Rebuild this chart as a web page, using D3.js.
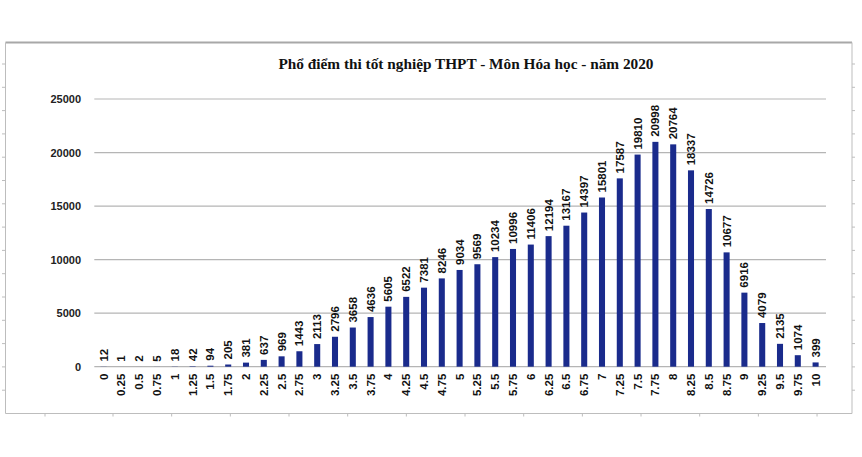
<!DOCTYPE html>
<html>
<head>
<meta charset="utf-8">
<script src="https://cdn.jsdelivr.net/npm/d3@7"></script>
<style>
  html, body { margin: 0; padding: 0; background: #fff; }
  svg { display: block; }
</style>
</head>
<body>
<svg id="chart" width="862" height="457"></svg>
<script>
const title = "Phổ điểm thi tốt nghiệp THPT - Môn Hóa học - năm 2020";
const categories = ["0","0.25","0.5","0.75","1","1.25","1.5","1.75","2","2.25","2.5","2.75",
  "3","3.25","3.5","3.75","4","4.25","4.5","4.75","5","5.25","5.5","5.75","6","6.25","6.5","6.75",
  "7","7.25","7.5","7.75","8","8.25","8.5","8.75","9","9.25","9.5","9.75","10"];
const counts = [12,1,2,5,18,42,94,205,381,637,969,1443,2113,2796,3658,4636,5605,6522,7381,8246,
  9034,9569,10234,10996,11406,12194,13167,14397,15801,17587,19810,20998,20764,18337,14726,10677,
  6916,4079,2135,1074,399];
const yTicks = [0,5000,10000,15000,20000,25000];

const svg = d3.select("#chart");

// outer frame
const fL = 5.5, fT = 42.5, fR = 852, fB = 413.5;
const frame = svg.append("g");
frame.append("line").attr("x1", fL).attr("x2", fR).attr("y1", fT).attr("y2", fT)
  .attr("stroke", "#a8a8a8").attr("stroke-width", 2);
frame.append("line").attr("x1", fL).attr("x2", fL).attr("y1", fT).attr("y2", fB)
  .attr("stroke", "#bdbdbd").attr("stroke-width", 1);
frame.append("line").attr("x1", fR).attr("x2", fR).attr("y1", fT).attr("y2", fB)
  .attr("stroke", "#bdbdbd").attr("stroke-width", 1);
frame.append("line").attr("x1", fL).attr("x2", fR).attr("y1", fB).attr("y2", fB)
  .attr("stroke", "#bdbdbd").attr("stroke-width", 1);
for (let k = 1; k <= 15; k++) {
  const ty = fB - k * 23.3;
  if (ty <= fT + 2) break;
  frame.append("line").attr("x1", fL - 3.5).attr("x2", fL).attr("y1", ty).attr("y2", ty)
    .attr("stroke", "#bdbdbd");
  frame.append("line").attr("x1", fR).attr("x2", fR + 3).attr("y1", ty).attr("y2", ty)
    .attr("stroke", "#bdbdbd");
}
const bx = [45];
for (let k = 0; k <= 12; k++) bx.push(113 + k * 58.67);
bx.forEach(v => frame.append("line").attr("x1", v).attr("x2", v).attr("y1", fB).attr("y2", fB + 3)
  .attr("stroke", "#bdbdbd"));

// scales
const x = d3.scaleBand().domain(categories).range([94.7, 824.5])
  .paddingInner(0.66).paddingOuter(0.33);
const y = d3.scaleLinear().domain([0, 25000]).range([366.7, 99]);

// gridlines
svg.append("g").selectAll("line").data(yTicks).join("line")
  .attr("x1", 94.3).attr("x2", 826)
  .attr("y1", d => y(d)).attr("y2", d => y(d))
  .attr("stroke", "#b5b5b5").attr("stroke-width", 1.2);

// y axis labels
const yAxis = d3.axisLeft(y).tickValues(yTicks).tickSize(0).tickPadding(0).tickFormat(d3.format("d"));
const ya = svg.append("g").attr("transform", "translate(81,0)").call(yAxis);
ya.select(".domain").remove();
ya.selectAll("text").attr("font-family", "Liberation Sans, Arial, sans-serif")
  .attr("font-size", 11).attr("fill", "#222").attr("font-weight", "bold");

// bars
svg.append("g").selectAll("rect").data(counts).join("rect")
  .attr("x", (d, i) => x(categories[i]))
  .attr("width", x.bandwidth())
  .attr("y", d => y(d))
  .attr("height", d => y(0) - y(d))
  .attr("fill", "#1a2b8c");

// value labels
svg.append("g").selectAll("text").data(counts).join("text")
  .attr("transform", (d, i) => `translate(${x(categories[i]) + x.bandwidth() / 2},${y(d) - 5}) rotate(-90)`)
  .attr("dy", "0.35em")
  .attr("text-anchor", "start")
  .attr("font-family", "Liberation Sans, Arial, sans-serif")
  .attr("font-size", 11.5).attr("font-weight", "bold").attr("fill", "#111")
  .text(d => d);

// x axis labels
const xAxis = d3.axisBottom(x).tickSize(0).tickPadding(0);
const xa = svg.append("g").attr("transform", `translate(0,${y(0)})`).call(xAxis);
xa.select(".domain").remove();
xa.selectAll("text")
  .attr("transform", "translate(0,7) rotate(-90)")
  .attr("x", 0).attr("y", 0).attr("dy", "0.35em")
  .attr("text-anchor", "end")
  .attr("font-family", "Liberation Sans, Arial, sans-serif")
  .attr("font-size", 11.5).attr("font-weight", "bold").attr("fill", "#111");

// title
svg.append("text")
  .attr("x", 466).attr("y", 69)
  .attr("text-anchor", "middle")
  .attr("font-family", "Liberation Serif, Times New Roman, serif")
  .attr("font-weight", "bold").attr("font-size", 14.5).attr("fill", "#111")
  .attr("textLength", 375).attr("lengthAdjust", "spacingAndGlyphs")
  .text(title);
</script>
</body>
</html>
